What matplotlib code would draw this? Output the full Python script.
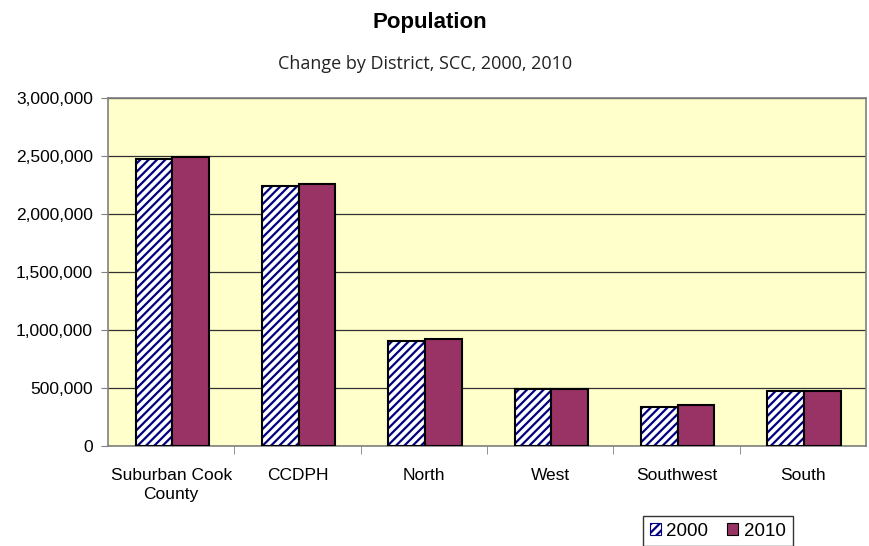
import matplotlib.pyplot as plt
import numpy as np
from matplotlib.patches import Patch
from matplotlib.ticker import FuncFormatter, FixedLocator

# Population by district, 2000 vs 2010
districts = ["Suburban Cook\nCounty", "CCDPH", "North", "West", "Southwest", "South"]
pop_2000 = [2474000, 2244000, 908000, 491000, 339000, 477000]
pop_2010 = [2491000, 2261000, 922000, 493000, 351000, 477000]

plt.rcParams['font.family'] = ['Liberation Sans', 'DejaVu Sans']
plt.rcParams['hatch.linewidth'] = 1.6

fig = plt.figure(figsize=(8.69, 5.46), dpi=100)
ax = fig.add_axes([0.1243, 0.1832, 0.8722, 0.6373])
ax.set_facecolor('#FFFFCC')

x = np.arange(len(districts))
w = 0.29
off = 0.01

# 2000: white fill with navy diagonal hatch, then black outline on top
ax.bar(x - w / 2 + off, pop_2000, w, color='white', edgecolor='#000080',
       hatch='////', linewidth=0, zorder=3)
ax.bar(x - w / 2 + off, pop_2000, w, fill=False, edgecolor='black',
       linewidth=1.5, zorder=4)
# 2010: solid plum
ax.bar(x + w / 2 + off, pop_2010, w, color='#993366', edgecolor='black',
       linewidth=1.5, zorder=4)

ax.set_xlim(-0.5, len(districts) - 0.5)
ax.set_ylim(0, 3000000)
ax.set_yticks(np.arange(0, 3000001, 500000))
ax.yaxis.set_major_formatter(FuncFormatter(lambda v, p: f"{int(v):,}"))
ax.grid(axis='y', color='#303030', linewidth=0.9, zorder=1)

# category labels centered, tick marks between categories
ax.set_xticks(x)
ax.set_xticklabels(districts, fontsize=12.5, linespacing=1.35)
ax.tick_params(axis='x', length=0, pad=16)
ax.xaxis.set_minor_locator(FixedLocator(np.arange(0.5, len(districts) - 0.5, 1)))
ax.tick_params(axis='x', which='minor', length=6, color='#808080', direction='out')
ax.tick_params(axis='y', labelsize=12.5, length=5, color='#808080', pad=6)

for s in ax.spines.values():
    s.set_color('#808080')
    s.set_linewidth(1.2)

fig.text(0.495, 0.959, "Population", ha='center', va='center',
         fontsize=16, fontweight='bold')
fig.text(0.489, 0.883, "Change by District, SCC, 2000, 2010", ha='center',
         va='center', fontsize=13, color='#222222',
         family=['Open Sans', 'DejaVu Sans'])

handles = [
    Patch(facecolor='white', edgecolor='#000080', hatch='////', linewidth=0.8),
    Patch(facecolor='#993366', edgecolor='black', linewidth=0.8),
]
leg = fig.legend(handles, ["2000", "2010"], loc='upper left',
                 bbox_to_anchor=(0.740, 0.055), ncol=2, fontsize=13.5,
                 frameon=True, fancybox=False, handlelength=0.6,
                 handleheight=0.6, handletextpad=0.3, columnspacing=1.0,
                 borderpad=0.35, borderaxespad=0)
leg.get_frame().set_edgecolor('black')
leg.get_frame().set_linewidth(1.0)

fig.savefig('out.png', dpi=100)
